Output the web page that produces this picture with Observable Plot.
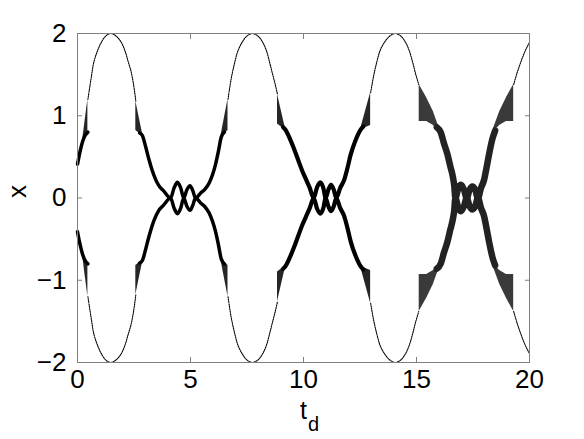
<!DOCTYPE html>
<html><head><meta charset="utf-8">
<script src="https://cdn.jsdelivr.net/npm/d3@7"></script>
<script src="https://cdn.jsdelivr.net/npm/@observablehq/plot@0.6"></script>
<style>body{margin:0;background:#fff}</style>
</head><body><div id="chart"></div>
<script>
// tick values
const xTicks = [0, 5, 10, 15, 20];
const yTicks = [-2, -1, 0, 1, 2];

// sparse outer arcs (upper half, [t_d, x]); the chart is mirror-symmetric in x
const arc1 = [[0.46,1.2],[0.6,1.45],[0.73,1.66],[0.9,1.8],[1.05,1.89],[1.25,1.97],[1.48,2.0],[1.7,1.97],[1.92,1.9],[2.1,1.79],[2.25,1.65],[2.36,1.55],[2.48,1.38],[2.58,1.18]];
const arc2 = [[6.66,1.2],[6.8,1.45],[6.95,1.64],[7.1,1.79],[7.3,1.9],[7.5,1.97],[7.74,2.0],[7.98,1.97],[8.18,1.9],[8.36,1.79],[8.5,1.65],[8.62,1.52],[8.75,1.38],[8.85,1.26]];
const arc3 = [[12.97,1.28],[13.1,1.48],[13.25,1.66],[13.4,1.8],[13.6,1.9],[13.82,1.97],[14.06,2.0],[14.3,1.97],[14.5,1.9],[14.68,1.79],[14.84,1.64],[14.97,1.5],[15.1,1.38]];
const arc4 = [[19.3,1.38],[19.45,1.52],[19.6,1.64],[19.75,1.75],[19.88,1.83],[20,1.89]];

// dense bands (upper half centre lines, [t_d, x])
const band0 = [[0,0.41],[0.1,0.55],[0.22,0.68],[0.3,0.74],[0.46,0.8]];
const band1 = [[2.75,0.79],[2.87,0.76],[3.0,0.64],[3.15,0.48],[3.3,0.34],[3.45,0.23],[3.6,0.15],[3.8,0.09],[4.12,0],[4.27,0.12],[4.42,0.19],[4.57,0.12],[4.7,0],[4.84,0.1],[4.98,0.15],[5.1,0.09],[5.22,0],[5.45,0.06],[5.65,0.11],[5.82,0.18],[5.97,0.28],[6.1,0.4],[6.23,0.56],[6.36,0.74],[6.5,0.8]];
const band2 = [[9.1,0.86],[9.2,0.83],[9.4,0.72],[9.58,0.6],[9.78,0.45],[9.96,0.32],[10.12,0.22],[10.28,0.12],[10.45,0],[10.6,0.13],[10.74,0.19],[10.88,0.12],[10.98,0],[11.1,0.1],[11.22,0.16],[11.34,0.1],[11.45,0],[11.62,0.12],[11.8,0.22],[11.95,0.37],[12.09,0.53],[12.3,0.7],[12.55,0.84],[12.65,0.87]];
const band3 = [[15.9,0.86],[16.07,0.8],[16.22,0.66],[16.37,0.53],[16.5,0.38],[16.6,0.27],[16.67,0.15],[16.72,0],[16.85,0.12],[16.97,0.16],[17.1,0.1],[17.22,0],[17.35,0.1],[17.47,0.14],[17.6,0.1],[17.72,0],[17.85,0.12],[17.99,0.22],[18.1,0.37],[18.21,0.53],[18.36,0.72],[18.48,0.82]];

// hatched fans ([t_d, low x, high x], upper half)
const fan1a = [[0.22,0.69,0.69],[0.46,0.8,1.2]];
const fan1b = [[2.58,0.82,1.18],[2.9,0.75,0.75]];
const fan1c = [[6.33,0.73,0.73],[6.66,0.82,1.2]];
const fan2a = [[8.85,0.9,1.26],[9.22,0.82,0.82]];
const fan2b = [[12.52,0.83,0.83],[12.97,0.88,1.28]];
const fan3a = [[15.12,0.93,1.38],[15.45,0.93,1.22],[15.75,0.88,1.05],[16.02,0.8,0.84]];
const fan3b = [[18.4,0.8,0.84],[18.68,0.88,1.05],[18.98,0.93,1.22],[19.3,0.93,1.38]];

const mirror = (arr, k) => [1, -1].flatMap(s => arr.map(([t, x]) => ({t, x: s * x, k: k + (s > 0 ? "+" : "-")})));
const mirrorFan = (arr, k) => [1, -1].flatMap(s => arr.map(([t, lo, hi]) => ({t, lo: s * lo, hi: s * hi, k: k + (s > 0 ? "+" : "-")})));

const arcRows = [arc1, arc2, arc3, arc4].flatMap((a, i) => mirror(a, "a" + i));
const fanRowsA = [fan1a, fan1b, fan1c, fan2a, fan2b].flatMap((a, i) => mirrorFan(a, "f" + i));
const fanRowsB = [fan3a, fan3b].flatMap((a, i) => mirrorFan(a, "g" + i));

const font = "'Liberation Sans',Arial,Helvetica,sans-serif";

const chart = Plot.plot({
  width: 584, height: 439,
  marginLeft: 77, marginRight: 55, marginTop: 33, marginBottom: 77,
  x: {domain: [0, 20]},
  y: {domain: [-2, 2]},
  style: {fontFamily: font, fontSize: "26px", background: "white", color: "black"},
  marks: [
    Plot.areaY(fanRowsA, {x: "t", y1: "lo", y2: "hi", z: "k", fill: "#262626"}),
    Plot.areaY(fanRowsB, {x: "t", y1: "lo", y2: "hi", z: "k", fill: "#3a3a3a"}),
    Plot.line(mirror(band0, "b0"), {x: "t", y: "x", z: "k", stroke: "black", strokeWidth: 3.5, curve: "monotone-x"}),
    Plot.line(mirror(band1, "b1"), {x: "t", y: "x", z: "k", stroke: "black", strokeWidth: 3.5, curve: "monotone-x"}),
    Plot.line(mirror(band2, "b2"), {x: "t", y: "x", z: "k", stroke: "black", strokeWidth: 4.2, curve: "monotone-x"}),
    Plot.line(mirror(band3, "b3"), {x: "t", y: "x", z: "k", stroke: "#222", strokeWidth: 6.5, curve: "monotone-x"}),
    Plot.line(arcRows, {x: "t", y: "x", z: "k", stroke: "black", strokeWidth: 1.1, strokeDasharray: "1.3,1.1", curve: "catmull-rom"}),
    Plot.frame({stroke: "#7f7f7f"}),
    Plot.axisX(xTicks, {anchor: "bottom", tickSize: -5, tickPadding: 12, tickFormat: "d", stroke: "#7f7f7f", fill: "black", label: null}),
    Plot.axisX(xTicks, {anchor: "top", tickSize: -5, tickFormat: () => "", stroke: "#7f7f7f", label: null}),
    Plot.axisY(yTicks, {anchor: "left", tickSize: -5, tickPadding: 16, tickFormat: "d", stroke: "#7f7f7f", fill: "black", label: null}),
    Plot.axisY(yTicks, {anchor: "right", tickSize: -5, tickFormat: () => "", stroke: "#7f7f7f", label: null}),
    Plot.text(["x"], {frameAnchor: "left", dx: -60, rotate: -90, fontSize: 26, fill: "black"}),
    Plot.text(["t"], {frameAnchor: "bottom", dy: 56, fontSize: 25, fill: "black"}),
    Plot.text(["d"], {frameAnchor: "bottom", dx: 10, dy: 68, fontSize: 20, fill: "black"})
  ]
});
document.getElementById("chart").appendChild(chart);
</script>
</body></html>
